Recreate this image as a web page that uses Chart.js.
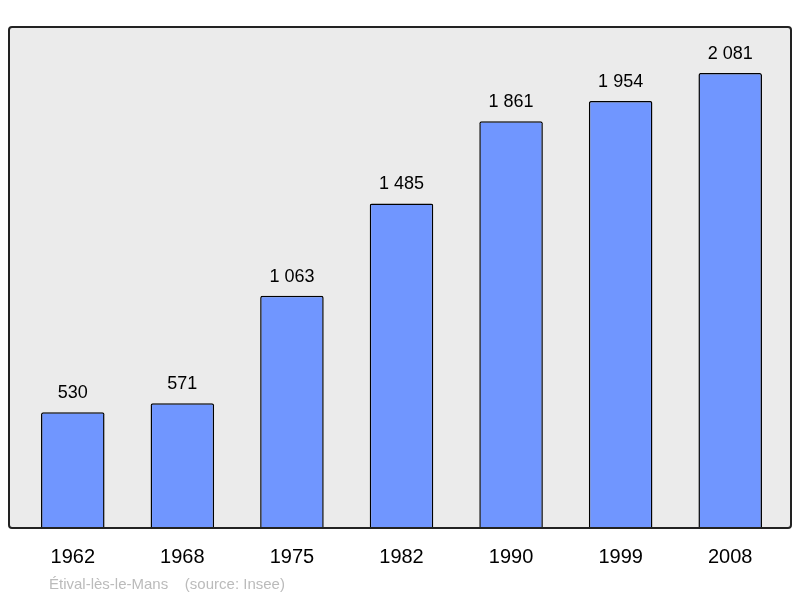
<!DOCTYPE html>
<html>
<head>
<meta charset="utf-8">
<script src="https://cdn.jsdelivr.net/npm/chart.js@4"></script>
<style>
  html, body { margin: 0; padding: 0; background: #fff; }
  #wrap { width: 800px; height: 598px; position: relative; }
</style>
</head>
<body>
<div id="wrap"><canvas id="chart"></canvas></div>
<script>
// Population data
const years = ['1962', '1968', '1975', '1982', '1990', '1999', '2008'];
const population = [530, 571, 1063, 1485, 1861, 1954, 2081];
const valueLabels = ['530', '571', '1 063', '1 485', '1 861', '1 954', '2 081'];
const sourceText = 'Étival-lès-le-Mans    (source: Insee)';

const frame = { l: 9, t: 27, r: 791, b: 528 };

const decor = {
    id: 'decor',
    beforeDraw(chart) {
        const c = chart.ctx;
        c.save();
        c.beginPath();
        c.roundRect(frame.l, frame.t, frame.r - frame.l, frame.b - frame.t, 3);
        c.fillStyle = '#ebebeb';
        c.fill();
        c.restore();
    },
    afterDatasetsDraw(chart) {
        const c = chart.ctx;
        const meta = chart.getDatasetMeta(0);
        const xs = chart.scales.x;
        c.save();
        c.beginPath();
        c.roundRect(frame.l, frame.t, frame.r - frame.l, frame.b - frame.t, 3);
        c.lineWidth = 2;
        c.strokeStyle = '#222';
        c.stroke();
        c.fillStyle = '#000';
        c.textAlign = 'center';
        c.textBaseline = 'alphabetic';
        c.font = '18px "Liberation Sans", Arial, sans-serif';
        meta.data.forEach((bar, i) => c.fillText(valueLabels[i], bar.x, bar.y - 14));
        c.font = '20px "Liberation Sans", Arial, sans-serif';
        years.forEach((y, i) => c.fillText(y, xs.getPixelForValue(i), 563));
        c.textAlign = 'left';
        c.fillStyle = '#bbbbbb';
        c.font = '15px "Liberation Sans", Arial, sans-serif';
        c.fillText(sourceText, 49, 589);
        c.restore();
    }
};

new Chart(document.getElementById('chart'), {
    type: 'bar',
    data: {
        labels: years,
        datasets: [{
            data: population,
            backgroundColor: '#7096ff',
            borderColor: '#000',
            borderWidth: 1.5,
            borderRadius: 2,
            borderSkipped: 'bottom',
            barPercentage: 0.58,
            categoryPercentage: 1
        }]
    },
    options: {
        responsive: true,
        maintainAspectRatio: false,
        animation: false,
        layout: { padding: { left: 18, right: 15, top: 27, bottom: 70 } },
        plugins: { legend: { display: false }, tooltip: { enabled: false } },
        scales: {
            x: { display: false, grid: { display: false } },
            y: { display: false, min: 0, max: 2292, grid: { display: false } }
        }
    },
    plugins: [decor]
});
</script>
</body>
</html>
